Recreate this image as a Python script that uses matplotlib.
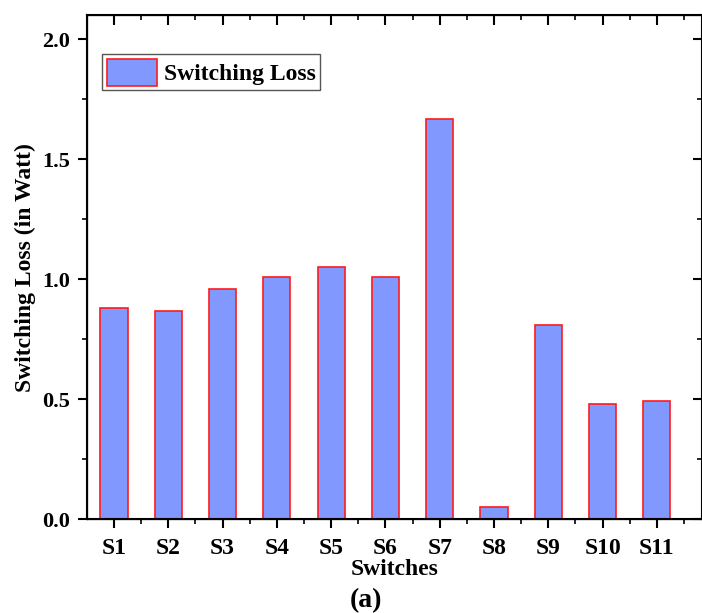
import numpy as np
import matplotlib
matplotlib.use("Agg")
import matplotlib.pyplot as plt
from matplotlib.ticker import MultipleLocator, FormatStrFormatter

# Data
switches = ["S1", "S2", "S3", "S4", "S5", "S6", "S7", "S8", "S9", "S10", "S11"]
loss = [0.879, 0.868, 0.958, 1.011, 1.051, 1.007, 1.667, 0.051, 0.810, 0.479, 0.493]

plt.rcParams["font.family"] = ["Liberation Serif", "DejaVu Serif"]
plt.rcParams["font.weight"] = "bold"

W, H = 702, 613
fig = plt.figure(figsize=(W / 100, H / 100), dpi=100)
ax = fig.add_axes([87 / W, (H - 519.3) / H, (702.5 - 87) / W, (519.3 - 15) / H])

x = np.arange(1, len(switches) + 1)
ax.bar(x, loss, width=0.5, color="#8199ff", edgecolor="#ff1a1a", linewidth=1.2,
       label="Switching Loss", zorder=2)

ax.set_xlim(0.503, 11.84)
ax.set_ylim(0, 2.1)
ax.set_xticks(x)
ax.set_xticklabels(switches, fontsize=17, fontweight="bold")
ax.xaxis.set_minor_locator(MultipleLocator(0.5))
ax.yaxis.set_major_locator(MultipleLocator(0.5))
ax.yaxis.set_minor_locator(MultipleLocator(0.25))
ax.yaxis.set_major_formatter(FormatStrFormatter("%.1f"))
for lab in ax.get_yticklabels():
    lab.set_fontsize(16)
    lab.set_fontweight("bold")

ax.tick_params(which="major", direction="out", length=6.5, width=1.5)
ax.tick_params(axis="x", which="major", pad=7)
ax.tick_params(axis="y", which="major", pad=6)
ax.tick_params(which="minor", direction="out", length=3.5, width=1.2)
for s in ax.spines.values():
    s.set_linewidth(1.5)

# top and right ticks pointing inward
axt = ax.twiny()
axt.set_xlim(ax.get_xlim())
axt.set_xticks(x)
axt.xaxis.set_minor_locator(MultipleLocator(0.5))
axt.tick_params(which="major", direction="in", length=7, width=1.5, labeltop=False)
axt.tick_params(which="minor", direction="in", length=3.5, width=1.2)
axr = ax.twinx()
axr.set_ylim(ax.get_ylim())
axr.yaxis.set_major_locator(MultipleLocator(0.5))
axr.yaxis.set_minor_locator(MultipleLocator(0.25))
axr.tick_params(which="major", direction="in", length=6.5, width=1.5, labelright=False)
axr.tick_params(which="minor", direction="in", length=3.5, width=1.2)

ax.set_ylabel("Switching Loss (in Watt)", fontsize=17, fontweight="bold", labelpad=4)
ax.set_xlabel("Switches", fontsize=17, fontweight="bold", labelpad=0)

leg = ax.legend(loc="upper left", bbox_to_anchor=(0.025, 0.922), fontsize=17,
                fancybox=False, edgecolor="#555555", framealpha=1,
                handlelength=2.1, handleheight=1.35, borderpad=0.2,
                handletextpad=0.3, borderaxespad=0)
leg.get_frame().set_linewidth(1.0)
for t in leg.get_texts():
    t.set_fontweight("bold")

fig.text(366 / W, 1 - 601 / H, "(a)", fontsize=20, fontweight="bold", ha="center", va="center")

fig.savefig("out.png", dpi=100)
